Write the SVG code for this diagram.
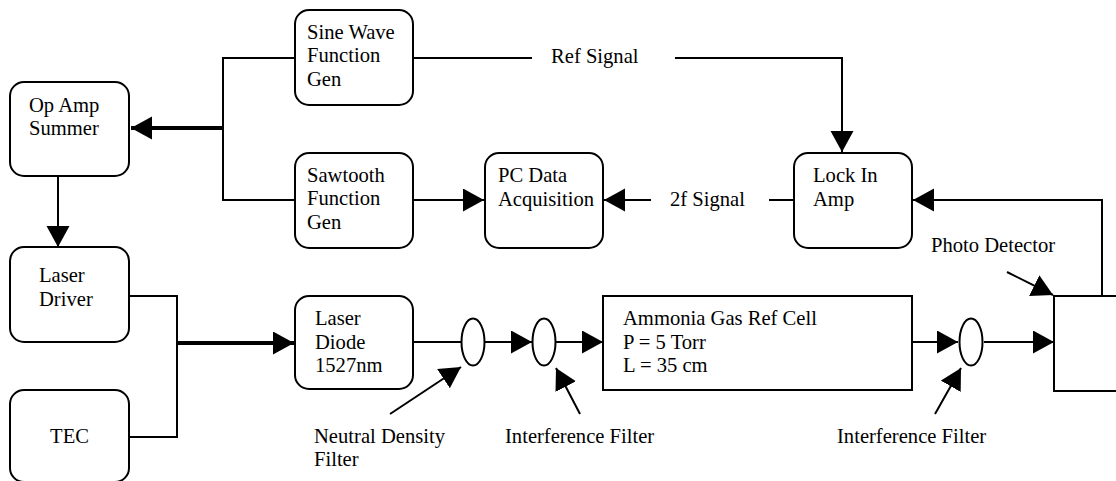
<svg xmlns="http://www.w3.org/2000/svg" width="1116" height="481" viewBox="0 0 1116 481">
<style>
.box{fill:#fff;stroke:#000;stroke-width:2}
.t{font-family:"Liberation Serif","Times New Roman",serif;font-size:20.6px;fill:#000}
.ln{fill:none;stroke:#000;stroke-width:2}
.thick{fill:none;stroke:#000;stroke-width:4}
</style>
<defs>
<marker id="ah" markerUnits="userSpaceOnUse" markerWidth="22" markerHeight="24" refX="21" refY="11.5" orient="auto" viewBox="0 0 22 24">
<path d="M0,0 L21,11.5 L0,23 Z" fill="#000"/>
</marker>
</defs>
<rect width="1116" height="481" fill="#fff"/>
<g id="connectors">
<polyline class="ln" points="295,58 223,58 223,200 295,200"/>
<line class="thick" x1="223" y1="128" x2="131" y2="128" marker-end="url(#ah)"/>
<line class="ln" x1="58" y1="176" x2="58" y2="247" marker-end="url(#ah)"/>
<polyline class="ln" points="129,296 177,296 177,437 129,437"/>
<line class="thick" x1="177" y1="343" x2="294" y2="343" marker-end="url(#ah)"/>
<line class="ln" x1="413" y1="58" x2="532" y2="58"/>
<polyline class="ln" points="675,58 842,58 842,152" marker-end="url(#ah)"/>
<line class="ln" x1="413" y1="200" x2="484" y2="200" marker-end="url(#ah)"/>
<line class="ln" x1="651" y1="200" x2="604" y2="200" marker-end="url(#ah)"/>
<line class="ln" x1="769" y1="200" x2="794" y2="200"/>
<polyline class="ln" points="1102,296 1102,200 913,200" marker-end="url(#ah)"/>
<line class="ln" x1="413" y1="342" x2="461" y2="342"/>
<line class="ln" x1="485" y1="342" x2="532" y2="342" marker-end="url(#ah)"/>
<line class="ln" x1="556" y1="342" x2="603" y2="342" marker-end="url(#ah)"/>
<line class="ln" x1="912" y1="342" x2="958" y2="342" marker-end="url(#ah)"/>
<line class="ln" x1="984" y1="342" x2="1054" y2="342" marker-end="url(#ah)"/>
<line class="ln" x1="390" y1="414" x2="461" y2="367" marker-end="url(#ah)"/>
<line class="ln" x1="580" y1="414" x2="556" y2="368" marker-end="url(#ah)"/>
<line class="ln" x1="935" y1="414" x2="961" y2="368" marker-end="url(#ah)"/>
<line class="ln" x1="1007" y1="272" x2="1053" y2="295" marker-end="url(#ah)"/>
</g>
<g id="opamp"><rect class="box" x="10" y="82" width="119" height="94" rx="14"/>
<text class="t" x="29" y="112">Op Amp</text><text class="t" x="29" y="135">Summer</text></g>
<g id="sine"><rect class="box" x="295" y="10" width="118" height="95" rx="14"/>
<text class="t" x="307" y="38.5">Sine Wave</text><text class="t" x="307" y="62">Function</text><text class="t" x="307" y="85.5">Gen</text></g>
<g id="sawtooth"><rect class="box" x="295" y="153" width="118" height="95" rx="14"/>
<text class="t" x="307" y="181.5">Sawtooth</text><text class="t" x="307" y="205">Function</text><text class="t" x="307" y="228.5">Gen</text></g>
<g id="pcdaq"><rect class="box" x="485" y="153" width="118" height="95" rx="14"/>
<text class="t" x="498" y="182">PC Data</text><text class="t" x="498" y="205.5">Acquisition</text></g>
<g id="lockin"><rect class="box" x="794" y="153" width="118" height="95" rx="14"/>
<text class="t" x="813" y="182">Lock In</text><text class="t" x="813" y="205.5">Amp</text></g>
<g id="laserdriver"><rect class="box" x="10" y="247" width="119" height="95" rx="14"/>
<text class="t" x="39" y="282">Laser</text><text class="t" x="39" y="305.5">Driver</text></g>
<g id="tec"><rect class="box" x="10" y="390" width="119" height="92" rx="14"/>
<text class="t" x="69.5" y="443" text-anchor="middle">TEC</text></g>
<g id="laserdiode"><rect class="box" x="295" y="296" width="118" height="93" rx="14"/>
<text class="t" x="315" y="325">Laser</text><text class="t" x="315" y="348.5">Diode</text><text class="t" x="315" y="372">1527nm</text></g>
<g id="ndfilter"><ellipse class="box" cx="473" cy="342" rx="11.5" ry="23.5"/></g>
<g id="iffilter1"><ellipse class="box" cx="544" cy="342" rx="11.5" ry="23.5"/></g>
<g id="cell"><rect class="box" x="603" y="296" width="309" height="94"/>
<text class="t" x="623" y="325">Ammonia Gas Ref Cell</text><text class="t" x="623" y="348.5">P = 5 Torr</text><text class="t" x="623" y="372">L = 35 cm</text></g>
<g id="iffilter2"><ellipse class="box" cx="971" cy="342" rx="11.5" ry="23.5"/></g>
<g id="photodetector"><rect class="box" x="1054" y="296" width="80" height="95"/></g>
<g id="labels">
<text class="t" x="551" y="63">Ref Signal</text>
<text class="t" x="670" y="205.5">2f Signal</text>
<text class="t" x="931" y="252">Photo Detector</text>
<text class="t" x="314" y="443">Neutral Density</text>
<text class="t" x="314" y="466">Filter</text>
<text class="t" x="505" y="443">Interference Filter</text>
<text class="t" x="837" y="443">Interference Filter</text>
</g>
</svg>
